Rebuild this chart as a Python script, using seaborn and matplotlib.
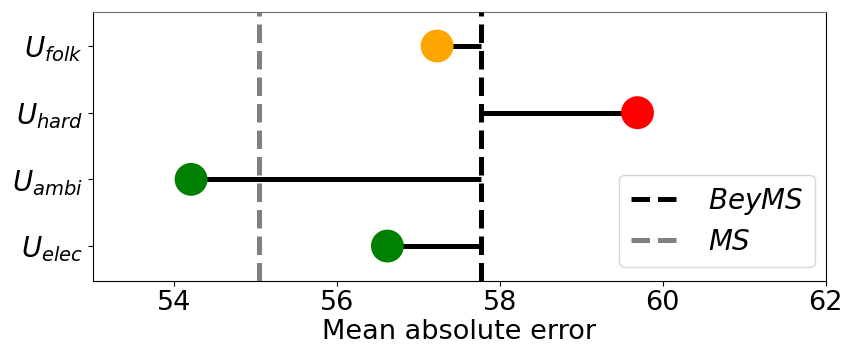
import matplotlib
matplotlib.use("Agg")
import matplotlib.pyplot as plt
import numpy as np
import pandas as pd
import seaborn as sns

# Mean absolute error per user group, with the two reference systems
groups = ["$U_{folk}$", "$U_{hard}$", "$U_{ambi}$", "$U_{elec}$"]
mae = [57.23, 59.69, 54.21, 56.62]
colors = ["orange", "red", "green", "green"]
beyms_mae = 57.77
ms_mae = 55.04
xticks = [54, 56, 58, 60, 62]

df = pd.DataFrame({"group": groups, "mae": mae, "pos": np.arange(len(groups))})

fig = plt.figure(figsize=(8.44, 3.46), dpi=100)
ax = fig.add_axes([0.1096, 0.1887, 0.8687, 0.7766])

# connectors from each group's score to the BeyMS baseline
ax.hlines(df["pos"], df["mae"], beyms_mae, color="black", lw=3.6, zorder=2)

ax.axvline(beyms_mae, color="black", ls="--", lw=3.6, label="$BeyMS$", zorder=3)
ax.axvline(ms_mae, color="gray", ls="--", lw=3.6, label="$MS$", zorder=3)

sns.scatterplot(data=df, x="mae", y="pos", hue="group", palette=colors,
                s=560, edgecolor="none", legend=False, ax=ax, zorder=4)

ax.set_xlim(53, 62)
ax.set_ylim(3.52, -0.51)
ax.set_xticks(xticks)
ax.set_yticks(df["pos"])
ax.set_yticklabels(groups)
ax.tick_params(axis="x", labelsize=19.5)
ax.tick_params(axis="y", labelsize=20)
ax.set_xlabel("Mean absolute error", fontsize=19.5, labelpad=2)
ax.set_ylabel("")
ax.spines["top"].set_color("#6e6e6e")

ax.legend(loc="lower right", fontsize=20, handlelength=1.8,
          borderpad=0.4, labelspacing=0.4, handletextpad=1.0,
          borderaxespad=0, bbox_to_anchor=(0.985, 0.051))

fig.savefig("out.png", dpi=100)
